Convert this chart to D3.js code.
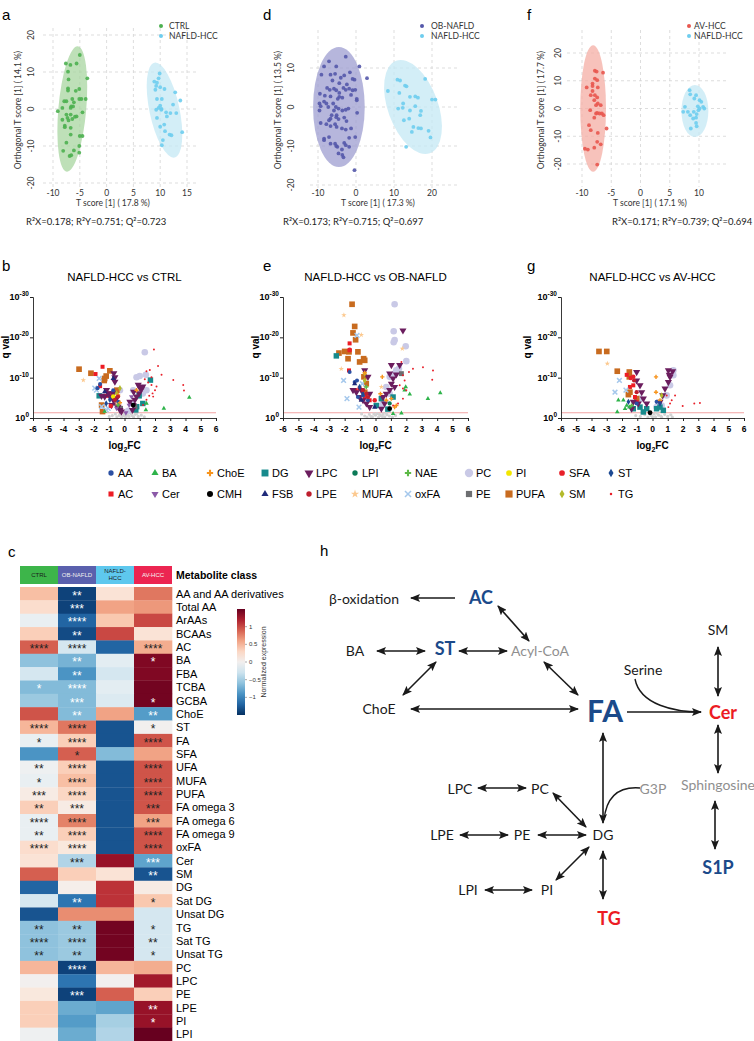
<!DOCTYPE html>
<html><head><meta charset="utf-8">
<script src="https://cdn.jsdelivr.net/npm/d3@7"></script>
<style>body{margin:0;background:#fff}svg{display:block}</style>
</head><body>
<svg id="c" width="754" height="1041"></svg>
<script>
// ---------------- DATA ----------------
// PCA (OPLS-DA) scores
const pcaA_ctrl = [[-5,14.6],[-3.6,8.3],[-5.6,12.3],[-6.75,11.9],[-7.6,12.3],[-7.2,10.1],[-5.1,5.4],[-5.75,4.9],[-4.7,2.7],[-5.1,2.7],[-7.1,8.0],[-7.2,5.6],[-7.2,5.0],[-6.4,2.7],[-6.6,0.7],[-6.7,0.3],[-6.1,1.8],[-6.25,0.7],[-8.25,0.3],[-7.5,2.1],[-7.9,2.1],[-9.1,-0.6],[-7.5,-1.5],[-7.3,-2.4],[-8.25,-2.9],[-6.7,-1.5],[-6.4,-2.7],[-5.6,-2.0],[-5.9,-2.1],[-7.8,-4.5],[-7.8,-4.9],[-7.1,-3.1],[-6.7,-5.1],[-4.5,-0.9],[-4.5,-7.3],[-5,-7.3],[-5.1,-10],[-5.1,-11.8],[-7.5,-9.1],[-8.1,-11.3],[-6.7,-6.9],[-6.6,-12.5],[-6.9,-12.7],[-6.1,-11.2],[-3.9,2.7]];
const pcaA_hcc = [[8.9,7.4],[9.25,6.25],[10,5.9],[10.8,5.4],[9.7,8.3],[9.9,9.6],[9.4,7.1],[9.1,5.2],[10.3,2.7],[9.4,2.7],[10,0.9],[9.7,0.3],[10.25,0],[9.25,-0.2],[11.1,-0.9],[11.9,-1.1],[12.4,1.2],[12.8,4.5],[13.75,2.3],[13,-1.1],[9.4,-2.4],[10,-4.8],[10.75,-4.2],[10.9,-6],[11.75,-6.9],[12.1,-7.1],[14.1,-6.25],[10.3,-9.8],[10.5,-8.4],[10.2,-0.2],[11.25,-2.0]];
const pcaD_ob = [[-7.1,11.7],[-2.7,12.9],[-5.2,10.4],[-8.4,10.4],[0.9,10.4],[-1.6,8.9],[-6.7,8.3],[-5.5,8.5],[-9.1,8.3],[-3.1,8.1],[-0.9,7.2],[-0.4,7.0],[-4.0,7.5],[-4.4,6.1],[-2.4,5.8],[2.9,7.4],[-6.2,6.8],[-7.6,4.9],[-9.5,3.4],[-8.2,2.9],[-6.9,4.4],[-5.8,4.7],[-5.2,4.3],[-4.4,3.6],[-3.3,4.9],[-2.7,4.4],[-1.8,4.7],[-1.3,3.1],[-0.9,4.3],[-0.2,4.4],[-6.7,2.7],[-4.4,2.6],[-4.8,2.1],[-3.6,2.4],[-8.4,1.4],[-9.6,0.9],[-9.3,0.2],[-7.8,0.9],[-7.3,0],[-6.0,0.9],[-5.3,0],[-4.6,-0.4],[-3.6,-0.9],[-2.7,-0.7],[-2.0,-0.4],[-5.8,-0.9],[-5.1,-2.1],[-5.2,-2.6],[-6.7,-3.0],[-6.4,-2.1],[-4.6,-3.1],[-3.1,-2.7],[-2.5,-3.6],[0.3,-1.5],[0.2,2.1],[0.2,1.7],[-9.6,-0.9],[-9.3,-4.1],[-7.8,-4.4],[-7.1,-3.4],[-5.5,-4.4],[-5.1,-5.1],[-3.7,-5.5],[-2.7,-5.8],[-6.7,-4.9],[-1.3,-5.5],[-1.8,-7.9],[-8.4,-8.1],[-7.1,-7.7],[-6.7,-9.4],[-5.5,-9.4],[-5.2,-10.0],[-4.9,-10.2],[-3.1,-9.2],[-2.7,-9.8],[-4.6,-11.9],[-3.6,-12.3],[-3.3,-12.9],[-3.7,-10.9],[-1.8,-10.2],[-0.4,-16.2],[-0.2,-7.7],[-8.4,-8.5]];
const pcaD_hcc = [[10.9,7.0],[11.6,6.8],[13.3,5.3],[12.9,5.5],[8.4,4.1],[11.4,3.6],[14.2,2.6],[15.6,2.7],[16.3,2.4],[18.2,7.2],[20.0,1.9],[20.9,1.9],[12.4,0.9],[12.3,-0.2],[11.1,-0.4],[14.2,-0.9],[15.6,0.2],[17.1,-1.0],[12.6,-3.4],[14.0,-3.0],[15.1,-5.1],[16.4,-5.4],[17.1,-5.5],[19.1,-6.1],[19.6,-7.8],[13.2,-10.2],[14.7,-6.4],[16.9,-2.1]];
const pcaF_av = [[-7.8,13.6],[-7.5,13.3],[-6.4,12.9],[-7.8,10.8],[-7.4,10.2],[-8.2,9.0],[-9.2,7.6],[-8.2,8.1],[-7.3,7.6],[-7.8,4.8],[-7.4,4.0],[-8.5,4.8],[-7.9,3.0],[-7.3,1.8],[-7.6,1.2],[-8.6,-0.6],[-6.8,1.2],[-6.6,-1.8],[-7.6,-1.8],[-7.9,-3.3],[-7.4,-1.6],[-8.8,-6.0],[-8.5,-7.8],[-5.8,-7.2],[-7.3,-8.8],[-7.4,-12.0],[-6.8,-12.9],[-7.9,-14.1],[-9.5,-14.5],[-9.0,-14.8],[-7.4,-20.2],[-7.0,-1.8],[-6.3,-2.4],[-8.2,6.3]];
const pcaF_hcc = [[8.4,6.6],[8.5,5.1],[9.5,4.8],[9.2,3.6],[10.4,2.4],[10.1,3.0],[10.7,0.6],[10.1,0],[9.8,0.8],[10.9,0],[9.9,-0.6],[9.1,-1.2],[8.5,-2.4],[9.6,-2.0],[8.1,-1.2],[7.3,-1.2],[9.5,-3.3],[9.5,-5.2],[8.6,-7.2],[9.6,-6.4],[9.0,-3.6],[7.6,0.6]];
// confidence ellipses: [cx, cy, rx, ry, tiltDeg]
const ellA = [[-6.4,0,2.6,17,5],[10.8,-0.3,2.8,13.1,-12]];
const ellD = [[-4.5,0,6.8,15.4,0],[15,0,6.6,12.6,-20]];
const ellF = [[-8.1,0,2.2,22.8,0],[9.3,-0.9,2.3,9.4,0]];
const statsA = "R²X=0.178; R²Y=0.751; Q²=0.723";
const statsD = "R²X=0.173; R²Y=0.715; Q²=0.697";
const statsF = "R²X=0.171; R²Y=0.739; Q²=0.694";

// Volcano data: [class, log2FC, -log10(q)]
const volcB = [
["NS",-0.8,0.6],["NS",-0.5,0.3],["NS",-0.3,0.9],["NS",-0.1,0.5],["NS",0.0,1.0],["NS",0.1,0.2],["NS",0.2,0.7],["NS",0.3,0.4],["NS",0.4,1.1],["NS",0.5,0.6],["NS",0.6,0.2],["NS",0.7,0.9],["NS",0.9,0.4],["NS",1.1,0.7],["NS",-0.6,1.0],["NS",-0.2,0.1],["NS",0.15,1.2],["NS",-0.35,0.6],["NS",0.8,1.1],["NS",1.3,0.3],["NS",-1.0,0.4],["NS",0.05,0.5],
["PC",1.33,16.3],["PC",0.79,10.1],["PC",1.0,10.4],["PC",1.4,10.7],["PC",0.57,6.9],["PC",1.2,6.1],["PC",0.46,3.6],["PC",1.44,6.9],["PC",0.24,1.8],["PC",-0.3,6.9],
["PUFA",-2.98,12.1],["PUFA",-2.2,11.1],["PUFA",-0.96,11.7],["PUFA",-1.2,10.4],["PUFA",-1.3,9.8],["PUFA",-1.33,9.3],["PUFA",-1.44,1.6],["PUFA",-0.5,6.9],["PUFA",-1.5,3.2],
["DG",-1.66,5.5],["DG",-0.48,3.6],["DG",0.8,2.8],["DG",1.2,3.6],["DG",1.7,9.4],["DG",0.74,2.0],["DG",0.96,5.5],
["PE",-0.26,2.4],["PE",0.68,2.8],
["AC",-1.44,12.7],["AC",-1.9,10.9],["AC",-1.6,7.9],["AC",-1.2,5.5],["AC",-0.63,5.0],["AC",-0.96,6.1],
["LPC",-0.7,11.1],["LPC",-0.63,10.1],["LPC",-0.63,9.0],["LPC",-1.18,6.9],["LPC",-1.07,6.1],["LPC",-0.96,5.3],["LPC",-0.74,4.5],["LPC",-0.57,3.6],["LPC",-0.42,2.8],["LPC",-0.85,3.2],["LPC",-0.3,2.0],["LPC",-0.2,1.6],["LPC",-0.52,4.9],["LPC",-1.3,5.3],["LPC",-0.74,6.1],["LPC",-1.5,5.5],["LPC",0.57,3.2],["LPC",0.68,4.5],["LPC",0.79,5.3],["LPC",0.96,6.1],["LPC",1.1,7.1],["LPC",1.2,7.8],["LPC",0.52,2.0],["LPC",0.6,6.5],["LPC",0.35,4.0],["LPC",0.9,8.2],["LPC",1.0,7.6],
["Cer",0.3,3.2],["Cer",0.46,5.3],["Cer",0.09,1.3],["Cer",-0.52,2.4],
["MUFA",-2.7,9.4],["MUFA",-0.5,3.6],
["oxFA",-1.66,9.8],["oxFA",-1.95,7.4],["oxFA",-1.5,2.8],["oxFA",-1.07,2.4],["oxFA",-1.84,6.9],["oxFA",-1.2,2.0],
["AA",-1.77,7.4],["AA",-1.6,8.4],["AA",-0.74,6.9],["AA",-0.4,4.0],
["FSB",-0.74,9.8],["FSB",-1.3,6.5],
["SM",-0.3,7.4],["SM",-0.52,6.1],
["ChoE",-0.42,5.7],["ChoE",-0.3,3.8],["ChoE",0.79,6.9],
["PI",-0.74,5.3],
["ST",-0.96,4.5],["ST",-1.2,3.6],
["LPE",-0.63,4.5],["LPE",-0.42,5.3],
["NAE",-0.42,3.2],
["SFA",-0.9,3.0],
["CMH",0.57,3.2],
["BA",-1.3,1.6],["BA",1.4,2.0],["BA",2.58,2.4],["BA",4.25,5.1],["BA",1.44,3.6],
["TG",1.93,17.0],["TG",2.2,12.9],["TG",2.43,10.7],["TG",1.66,11.9],["TG",1.44,11.6],["TG",1.77,10.1],["TG",3.2,9.4],["TG",3.85,8.2],["TG",3.9,6.8],["TG",1.77,8.2],["TG",2.0,6.9],["TG",1.84,6.1],["TG",1.44,4.5],["TG",1.62,5.5],["TG",1.22,3.2],["TG",1.88,5.3],["TG",2.1,7.8],["TG",1.55,8.8],["TG",1.33,9.6]
];
const volcE = [
["NS",-0.7,0.5],["NS",-0.4,0.9],["NS",-0.2,0.3],["NS",0.0,0.7],["NS",0.1,1.1],["NS",0.2,0.2],["NS",0.35,0.6],["NS",0.5,1.0],["NS",0.6,0.3],["NS",0.75,0.8],["NS",0.9,0.5],["NS",1.1,0.2],["NS",-0.55,0.2],["NS",-0.1,1.0],["NS",0.45,0.4],["NS",0.25,0.9],["NS",-0.3,0.4],["NS",1.3,0.6],["NS",0.7,1.2],["NS",-0.9,1.0],
["PC",1.24,28.2],["PC",1.18,21.5],["PC",1.24,19.3],["PC",1.18,18.8],["PC",1.96,17.8],["PC",2.0,14.1],["PC",1.35,11.8],["PC",1.24,11.0],["PC",0.92,10.2],["PC",0.7,7.7],["PC",0.92,6.0],["PC",0.49,4.0],["PC",0.38,3.1],["PC",1.52,12.2],
["PUFA",-1.52,28.2],["PUFA",-1.35,22.7],["PUFA",-1.46,21.1],["PUFA",-1.29,19.4],["PUFA",-2.0,16.5],["PUFA",-1.72,16.4],["PUFA",-2.37,16.1],["PUFA",-1.78,14.7],["PUFA",-0.77,14.7],["PUFA",-0.7,14.3],["PUFA",-0.75,10.2],["PUFA",-0.6,8.5],["PUFA",-1.14,16.4],["PUFA",-0.7,6.4],["PUFA",-1.03,13.9],
["DG",-2.54,15.4],["DG",0.38,4.8],["DG",1.14,5.2],["DG",0.05,3.1],["DG",0.8,2.2],
["PE",1.68,11.0],
["AC",-1.68,18.5],["AC",-1.68,16.8],["AC",-1.72,11.8],["AC",-1.29,6.9],["AC",-0.7,5.2],["AC",-0.38,4.4],["AC",-1.03,7.3],
["LPC",1.78,21.7],["LPC",1.03,13.1],["LPC",1.57,13.1],["LPC",1.35,10.8],["LPC",1.14,9.8],["LPC",1.03,8.5],["LPC",0.92,6.9],["LPC",0.7,6.0],["LPC",0.49,5.2],["LPC",0.59,3.6],["LPC",0.38,2.3],["LPC",-0.7,11.8],["LPC",-0.92,6.9],["LPC",-1.24,6.4],["LPC",-1.03,5.2],["LPC",-0.81,4.4],["LPC",-0.59,3.6],["LPC",-0.38,2.7],["LPC",-1.46,6.9],["LPC",-0.49,10.2],["LPC",-0.38,6.0],["LPC",1.24,7.7],["LPC",0.92,11.0],
["SFA",-1.68,16.9],["SFA",-0.05,4.4],
["MUFA",-2.05,25.5],["MUFA",-0.92,20.6],["MUFA",-2.22,12.2],["MUFA",1.74,17.2],["MUFA",0.38,7.7],
["oxFA",-1.2,20.5],["oxFA",-2.07,9.3],["oxFA",-1.85,4.8],["oxFA",-1.07,2.7],["oxFA",-0.85,8.5],
["AA",-1.68,11.4],["AA",-1.35,8.9],["AA",-1.2,9.3],["AA",-1.14,5.2],["AA",-0.81,5.6],["AA",-0.49,4.4],
["FSB",-1.35,8.5],["FSB",-0.92,4.4],["FSB",-0.05,2.7],
["ChoE",0.44,10.2],["ChoE",-0.7,11.2],["ChoE",0.32,6.0],["ChoE",0.7,4.4],["ChoE",1.35,3.1],["ChoE",1.24,2.7],["ChoE",1.03,4.8],
["SM",-0.7,11.0],["SM",-0.7,9.3],
["ST",-0.81,6.0],["ST",-1.03,7.7],
["LPE",-0.81,6.9],["LPE",-0.59,6.0],["LPE",-0.49,5.2],
["NAE",-0.6,7.7],
["LPI",0.92,3.6],
["CMH",0.92,2.3],
["BA",1.96,7.7],["BA",2.22,5.9],["BA",3.4,4.8],["BA",4.2,6.2],["BA",1.68,1.2],["BA",1.14,1.1],["BA",1.89,6.9],
["TG",1.68,13.9],["TG",2.43,12.2],["TG",3.08,12.6],["TG",3.73,11.8],["TG",3.68,9.5],["TG",2.17,11.4],["TG",1.78,10.6],["TG",1.89,9.3],["TG",1.78,7.3],["TG",1.57,8.1],["TG",2.0,6.9],["TG",1.78,4.8],["TG",1.46,3.6],["TG",1.14,3.1]
];
const volcG = [
["NS",-0.8,0.4],["NS",-0.5,0.8],["NS",-0.3,0.2],["NS",-0.1,0.6],["NS",0.1,1.0],["NS",0.2,0.3],["NS",0.4,0.7],["NS",0.6,0.2],["NS",0.8,0.9],["NS",1.0,0.4],["NS",1.3,0.2],["NS",-0.6,1.1],["NS",0.3,1.2],["NS",0.0,0.3],["NS",-1.1,0.6],["NS",1.2,0.8],["NS",0.55,0.5],
["PC",1.37,11.8],["PC",1.15,8.1],["PC",0.93,5.6],["PC",0.6,3.1],["PC",-0.82,4.8],["PC",0.27,2.7],["PC",1.37,10.6],
["PUFA",-3.51,16.5],["PUFA",-3.0,16.5],["PUFA",-2.31,11.6],["PUFA",-1.52,11.4],["PUFA",-1.52,10.2],["PUFA",-1.48,6.4],["PUFA",-1.58,5.8],["PUFA",-1.04,4.8],
["DG",-1.26,2.3],["DG",-0.82,2.7],["DG",-0.38,2.3],["DG",0.27,2.3],["DG",0.49,2.7],["DG",0.71,1.9],["DG",-0.6,1.5],
["AC",-1.69,10.7],["AC",-1.48,7.7],["AC",-1.26,8.1],["AC",-1.15,5.2],["AC",-1.04,4.0],
["SFA",-1.26,10.2],["SFA",-1.43,9.9],
["LPE",-1.21,9.3],["LPE",-1.04,6.4],
["LPC",1.04,11.8],["LPC",1.32,11.6],["LPC",1.15,10.2],["LPC",1.04,8.9],["LPC",0.82,7.3],["LPC",0.67,5.6],["LPC",0.49,4.0],["LPC",-1.04,9.3],["LPC",-0.82,8.1],["LPC",-0.71,6.4],["LPC",-0.6,4.8],["LPC",-0.38,3.6],["LPC",-1.26,4.0],["LPC",-1.37,2.3],["LPC",-0.93,3.6],["LPC",-1.04,11.4],["LPC",1.1,10.7],
["MUFA",-2.96,13.5],
["oxFA",-2.17,9.3],["oxFA",-2.46,6.4],["oxFA",-1.74,6.9],
["ChoE",0.23,10.2],["ChoE",0.23,6.4],["ChoE",0.49,4.4],
["ST",-1.58,4.0],["ST",0.49,3.6],
["AA",-1.04,3.6],["AA",0.27,4.0],
["SM",0.6,5.6],
["NAE",-1.37,3.1],
["CMH",-0.16,1.3],
["BA",-2.24,4.4],["BA",-1.91,4.4],["BA",-2.31,1.5],["BA",-1.8,2.3],["BA",-1.69,3.1],["BA",-1.52,2.7],
["TG",0.93,5.6],["TG",1.26,4.4],["TG",1.98,3.0],["TG",2.74,3.6],["TG",3.11,3.7],["TG",1.48,5.6],["TG",1.15,3.6],["TG",1.04,2.7]
];
const volcTitles = ["NAFLD-HCC vs CTRL","NAFLD-HCC vs OB-NAFLD","NAFLD-HCC vs AV-HCC"];
const qTicks = [0,10,20,30];
const fcTicks = [-6,-5,-4,-3,-2,-1,0,1,2,3,4,5,6];
const legendClasses = ["AA","AC","BA","Cer","ChoE","CMH","DG","FSB","LPC","LPE","LPI","MUFA","NAE","oxFA","PC","PE","PI","PUFA","SFA","SM","ST","TG"];

// Heatmap
const hmRows = ["AA and AA derivatives","Total AA","ArAAs","BCAAs","AC","BA","FBA","TCBA","GCBA","ChoE","ST","FA","SFA","UFA","MUFA","PUFA","FA omega 3","FA omega 6","FA omega 9","oxFA","Cer","SM","DG","Sat DG","Unsat DG","TG","Sat TG","Unsat TG","PC","LPC","PE","LPE","PI","LPI"];
const hmGroups = ["CTRL","OB-NAFLD","NAFLD-HCC","AV-HCC"];
const hmCTRL = [0.45,0.25,-0.1,0.35,0.9,-0.6,-0.25,-0.65,-0.55,0.95,0.5,-0.1,-0.9,-0.05,-0.1,0.1,0.35,-0.1,-0.1,0.25,0.2,0.9,-1.2,-0.25,-1.3,-0.6,-0.6,-0.6,0.5,0.0,0.15,0.35,0.35,-0.05];
const hmOB = [-1.4,-1.4,-1.2,-1.35,-0.25,-0.7,-0.9,-0.65,-0.65,-0.65,0.8,0.35,0.9,0.35,0.45,0.3,0.1,0.75,0.35,0.15,-0.45,0.35,0.05,-1.1,0.7,-0.55,-0.55,-0.55,-1.4,-1.1,-1.4,-0.75,-0.85,-0.75];
const hmNH = [0.2,0.6,0.4,1.0,-1.2,-0.15,-0.25,-0.15,-0.2,0.6,-1.3,-1.3,-0.65,-1.3,-1.3,-1.3,-1.3,-1.3,-1.3,-1.3,1.3,0.2,1.1,1.1,0.7,1.45,1.45,1.45,0.5,0.0,0.9,-0.8,-0.5,-0.45];
const hmAV = [0.8,0.65,1.0,0.2,0.55,1.4,1.4,1.45,1.45,-0.85,0.0,0.95,0.6,0.95,0.95,0.95,0.95,0.6,0.95,0.95,-0.8,-1.3,0.1,0.4,-0.25,-0.25,-0.25,-0.25,0.55,1.25,0.35,1.3,1.3,1.5];
const stCTRL = ["","","","","****","","","*","","","****","*","","**","*","***","**","****","**","****","","","","","","**","****","**","","","","","",""];
const stOB = ["**","***","****","**","****","**","**","****","***","**","****","****","*","****","****","****","***","****","****","****","***","","","**","","**","****","**","****","","***","","",""];
const stNH = hmRows.map(() => "");
const stAV = ["","","","","****","*","","","*","**","*","****","","****","****","****","***","***","****","****","***","**","","*","","*","**","*","","","","**","*",""];
const cbTicks = [1,0.5,0,-0.5,-1];

// Pathway nodes
const pathNodes = [
 ["β-oxidation","n"],["AC","b"],["BA","n"],["ST","b"],["Acyl-CoA","g"],["ChoE","n"],["FA","B"],["Serine","n"],["Cer","r"],["SM","n"],["Sphingosine","g"],["S1P","b"],["G3P","g"],["LPC","n"],["PC","n"],["LPE","n"],["PE","n"],["DG","n"],["LPI","n"],["PI","n"],["TG","r"]
];

// ---------------- LAYOUT / STYLE ----------------
const svg = d3.select("#c");
const ARIAL = "'Liberation Sans', Arial, sans-serif";
const MYR = "Lato, 'Open Sans', sans-serif";

function letter(t,x,y){ svg.append("text").attr("x",x).attr("y",y).attr("font-family",ARIAL).attr("font-size",15).text(t); }

// ---- PCA panels ----
function pca(o){
  const g = svg.append("g");
  const x = d3.scaleLinear().domain(o.xd).range(o.xr);
  const y = d3.scaleLinear().domain(o.yd).range(o.yr);
  o.xt.forEach(t=>g.append("line").attr("x1",x(t)).attr("x2",x(t)).attr("y1",o.gy[0]).attr("y2",o.gy[1]).attr("stroke","#d4d4d4").attr("stroke-dasharray","3,3").attr("stroke-width",0.8));
  o.yt.forEach(t=>g.append("line").attr("y1",y(t)).attr("y2",y(t)).attr("x1",o.gx[0]).attr("x2",o.gx[1]).attr("stroke","#d4d4d4").attr("stroke-dasharray","3,3").attr("stroke-width",0.8));
  o.ell.forEach((e,i)=>{
    g.append("ellipse").attr("cx",0).attr("cy",0).attr("rx",e[2]*Math.abs(x(1)-x(0))).attr("ry",e[3]*Math.abs(y(1)-y(0)))
     .attr("transform",`translate(${x(e[0])},${y(e[1])}) rotate(${e[4]})`).attr("fill",o.ecol[i]).attr("opacity",0.75);
  });
  o.pts.forEach((p,i)=>{
    g.selectAll(null).data(p).join("circle").attr("cx",d=>x(d[0])).attr("cy",d=>y(d[1])).attr("r",1.9).attr("fill",o.pcol[i]).attr("opacity",0.9);
  });
  o.xt.forEach(t=>g.append("text").attr("x",x(t)).attr("y",196).attr("text-anchor","middle").attr("font-family",MYR).attr("font-size",8.5).attr("fill","#333").text(t));
  o.yt.forEach(t=>g.append("text").attr("transform",`translate(${o.ytx},${y(t)}) rotate(-90)`).attr("text-anchor","middle").attr("font-family",MYR).attr("font-size",8.5).attr("fill","#333").text(t));
  g.append("text").attr("x",o.xlab[0]).attr("y",206).attr("text-anchor","middle").attr("font-family",MYR).attr("font-size",8.5).attr("fill","#333").text(o.xlab[1]);
  g.append("text").attr("transform",`translate(${o.ylab[0]},110) rotate(-90)`).attr("text-anchor","middle").attr("font-family",MYR).attr("font-size",8.5).attr("fill","#333").text(o.ylab[1]);
  g.append("text").attr("x",o.statx).attr("y",225).attr("font-family",MYR).attr("font-size",9.5).attr("fill","#222").text(o.stats);
  o.leg.forEach((l,i)=>{
    g.append("circle").attr("cx",o.legx[0]).attr("cy",26+i*10).attr("r",2).attr("fill",o.pcol[i]);
    g.append("text").attr("x",o.legx[1]).attr("y",29+i*10).attr("font-family",MYR).attr("font-size",8.5).attr("fill","#333").text(l);
  });
}
pca({xd:[-10,15],xr:[53,187],yd:[-20,20],yr:[183,35],gx:[43,198],gy:[28,190],xt:[-10,-5,0,5,10,15],yt:[-20,-10,0,10,20],ytx:34,
  ell:ellA,ecol:["#a8d5a0","#c4e8f4"],pts:[pcaA_ctrl,pcaA_hcc],pcol:["#4cb050","#6ecdee"],
  xlab:[113,"T score [1] ( 17.8 %)"],ylab:[21,"Orthogonal T score [1] ( 14.1 %)"],statx:26,stats:statsA,leg:["CTRL","NAFLD-HCC"],legx:[161,169]});
pca({xd:[-10,20],xr:[318,432],yd:[-20,10],yr:[185,68],gx:[310,457],gy:[30,188],xt:[-10,0,10,20],yt:[-20,-10,0,10],ytx:294,
  ell:ellD,ecol:["#9d9dd0","#c4e8f4"],pts:[pcaD_ob,pcaD_hcc],pcol:["#5458aa","#6ecdee"],
  xlab:[378,"T score [1] ( 17.3 %)"],ylab:[281,"Orthogonal T score [1] ( 13.5 %)"],statx:283,stats:statsD,leg:["OB-NAFLD","NAFLD-HCC"],legx:[422,431]});
pca({xd:[-10,10],xr:[582,699],yd:[-20,20],yr:[164,53],gx:[567,727],gy:[30,187],xt:[-10,-5,0,5,10],yt:[-20,-10,0,10,20],ytx:561,
  ell:ellF,ecol:["#f4aea4","#c4e8f4"],pts:[pcaF_av,pcaF_hcc],pcol:["#e8574f","#6ecdee"],
  xlab:[650,"T score [1] ( 17.1 %)"],ylab:[544,"Orthogonal T score [1] ( 17.7 %)"],statx:612,stats:statsF,leg:["AV-HCC","NAFLD-HCC"],legx:[689,694]});
letter("a",2,20); letter("d",263,20); letter("f",527,20);

// ---- Volcano ----
const classStyle = {
 NS:{s:"circle",c:"#d2d2d2",a:8},
 AA:{s:"circle",c:"#2b50a3",a:13},
 AC:{s:"square",c:"#ed1c24",a:16},
 BA:{s:"tri",c:"#2eb34a",a:9},
 Cer:{s:"tridown",c:"#8b5aa8",a:11},
 ChoE:{s:"cross",c:"#f7941d",a:10},
 CMH:{s:"circle",c:"#000",a:18},
 DG:{s:"square",c:"#178a8c",a:30},
 FSB:{s:"tri",c:"#1f2a7a",a:12},
 LPC:{s:"tridown",c:"#6b1d5e",a:22},
 LPE:{s:"circle",c:"#be1e2d",a:14},
 LPI:{s:"circle",c:"#0b7a57",a:14},
 MUFA:{s:"star",c:"#fcc98f",a:9},
 NAE:{s:"cross",c:"#5db947",a:10},
 oxFA:{s:"times",c:"#a5c8ec",a:16},
 PC:{s:"circle",c:"#c9c9e6",a:34},
 PE:{s:"square",c:"#6d6e71",a:24},
 PI:{s:"circle",c:"#f2e600",a:16},
 PUFA:{s:"square",c:"#c86b1f",a:32},
 SFA:{s:"circle",c:"#e8202a",a:16},
 SM:{s:"diamond",c:"#b3ba2a",a:12},
 ST:{s:"diamond",c:"#1d4a93",a:12},
 TG:{s:"circle",c:"#e8202a",a:3}
};
function sym(cls, a){
  const st = classStyle[cls];
  const t = {circle:d3.symbolCircle,square:d3.symbolSquare,tri:d3.symbolTriangle,tridown:d3.symbolTriangle,cross:d3.symbolCross,star:d3.symbolStar,diamond:d3.symbolDiamond,times:d3.symbolTimes}[st.s];
  return d3.symbol().type(t).size(a)();
}
function drawMark(g, cls, px, py, a){
  const st = classStyle[cls];
  const p = g.append("path").attr("d",sym(cls,a||st.a)).attr("transform",`translate(${px},${py})${st.s==="tridown"?" rotate(180)":""}`);
  if(st.s==="times") p.attr("fill","none").attr("stroke",st.c).attr("stroke-width",1.5);
  else p.attr("fill",st.c);
}
function volcano(data, x0, x1, title, qx){
  const g = svg.append("g");
  const x = d3.scaleLinear().domain([-6,6]).range([x0,x1]);
  const y = d3.scaleLinear().domain([0,30]).range([418,297]);
  g.append("text").attr("x",(x0+x1)/2).attr("y",281).attr("text-anchor","middle").attr("font-family",ARIAL).attr("font-size",11.5).text(title);
  g.append("line").attr("x1",x0).attr("x2",x1).attr("y1",y(1.3)).attr("y2",y(1.3)).attr("stroke","#f2a3a3").attr("stroke-width",1);
  const order = ["NS","PC","PUFA","DG","PE","AC","LPC","Cer","MUFA","oxFA","AA","FSB","SM","ChoE","PI","ST","LPE","NAE","SFA","LPI","CMH","BA","TG"];
  order.forEach(cls=>data.filter(d=>d[0]===cls).forEach(d=>drawMark(g,cls,x(d[1]),y(d[2]))));
  const ya = g.append("g").attr("transform",`translate(${x0},0)`).call(d3.axisLeft(y).tickValues(qTicks).tickSize(3).tickFormat(""));
  const xa = g.append("g").attr("transform",`translate(0,418)`).call(d3.axisBottom(x).tickValues(fcTicks).tickSize(3).tickFormat(""));
  [ya,xa].forEach(a=>{a.select(".domain").attr("stroke","#222").attr("stroke-width",0.9); a.selectAll(".tick line").attr("stroke","#222");});
  qTicks.forEach(t=>{
    const tx = g.append("text").attr("x",x0-4).attr("y",y(t)+3).attr("text-anchor","end").attr("font-family",ARIAL).attr("font-weight","bold").attr("font-size",9);
    tx.append("tspan").text("10");
    tx.append("tspan").attr("dy",-4).attr("font-size",6.5).text(t===0?"0":"-"+t);
  });
  fcTicks.forEach(t=>g.append("text").attr("x",x(t)).attr("y",432).attr("text-anchor","middle").attr("font-family",ARIAL).attr("font-weight","bold").attr("font-size",8.5).text(t));
  g.append("text").attr("transform",`translate(${qx},347) rotate(-90)`).attr("text-anchor","middle").attr("font-family",ARIAL).attr("font-weight","bold").attr("font-size",10).text("q val");
  const lt = g.append("text").attr("x",(x0+x1)/2).attr("y",449).attr("text-anchor","middle").attr("font-family",ARIAL).attr("font-weight","bold").attr("font-size",10);
  lt.append("tspan").text("log");
  lt.append("tspan").attr("dy",3).attr("font-size",7).text("2");
  lt.append("tspan").attr("dy",-3).text("FC");
}
volcano(volcB,33,216,volcTitles[0],9);
volcano(volcE,283,468,volcTitles[1],259);
volcano(volcG,561,744,volcTitles[2],531);
letter("b",2,271); letter("e",263,271); letter("g",527,271);

// Legend
const legCols = [111,155,210,265,309,355,408,469,509,562,611];
legendClasses.forEach((cls,i)=>{
  const col = Math.floor(i/2), row = i%2;
  const lx = legCols[col], ly = row===0?473:494;
  const g = svg.append("g");
  const a = classStyle[cls].a;
  drawMark(g,cls,lx,ly, cls==="TG"?5:Math.max(22, a*1.6));
  g.append("text").attr("x",lx+7).attr("y",ly+4).attr("font-family",ARIAL).attr("font-size",11).text(cls);
});

// ---- Heatmap ----
letter("c",8,557); letter("h",320,556);
const color = d3.scaleSequential(d3.interpolateRdBu).domain([1.5,-1.5]);
const hx = d3.scaleBand().domain(hmGroups).range([20,172]);
const hy = d3.scaleBand().domain(hmRows).range([587,1041]);
const hdrCol = ["#3db54a","#5a60ad","#5ec8ee","#ec2551"];
const hdrTxt = ["#1a1a1a","#f0f0f0","#1a1a1a","#f5f5f5"];
hmGroups.forEach((gname,i)=>{
  svg.append("rect").attr("x",hx(gname)).attr("y",566).attr("width",hx.bandwidth()).attr("height",18).attr("fill",hdrCol[i]);
  const lines = gname==="NAFLD-HCC"?["NAFLD-","HCC"]:[gname];
  lines.forEach((l,j)=>svg.append("text").attr("x",hx(gname)+hx.bandwidth()/2).attr("y",lines.length===1?577:573+j*7).attr("text-anchor","middle").attr("font-family",ARIAL).attr("font-size",6).attr("fill",hdrTxt[i]).text(l));
});
svg.append("text").attr("x",176).attr("y",579).attr("font-family",ARIAL).attr("font-weight","bold").attr("font-size",10.5).text("Metabolite class");
const cols = [[hmCTRL,stCTRL],[hmOB,stOB],[hmNH,stNH],[hmAV,stAV]];
hmRows.forEach((r,ri)=>{
  cols.forEach((c,ci)=>{
    const v = c[0][ri];
    svg.append("rect").attr("x",hx(hmGroups[ci])).attr("y",hy(r)).attr("width",hx.bandwidth()+0.3).attr("height",hy.bandwidth()+0.3).attr("fill",color(v));
    if(c[1][ri]) svg.append("text").attr("x",hx(hmGroups[ci])+hx.bandwidth()/2).attr("y",hy(r)+hy.bandwidth()/2+6).attr("text-anchor","middle")
      .attr("font-family",ARIAL).attr("font-size",12).attr("fill",(v<-0.62||v>1.1)?"#fff":"#222").text(c[1][ri]);
  });
  svg.append("text").attr("x",176).attr("y",hy(r)+hy.bandwidth()/2+4).attr("font-family",ARIAL).attr("font-size",11).text(r);
});
// colorbar
const cby = d3.scaleLinear().domain([1.5,-1.5]).range([609,715]);
const defs = svg.append("defs");
const lg = defs.append("linearGradient").attr("id","cbg").attr("x1",0).attr("x2",0).attr("y1",0).attr("y2",1);
d3.range(0,1.001,0.1).forEach(t=>lg.append("stop").attr("offset",t).attr("stop-color",color(1.5-3*t)));
svg.append("rect").attr("x",237).attr("y",609).attr("width",8).attr("height",106).attr("fill","url(#cbg)");
cbTicks.forEach(t=>{
  svg.append("line").attr("x1",245).attr("x2",247).attr("y1",cby(t)).attr("y2",cby(t)).attr("stroke","#555").attr("stroke-width",0.5);
  svg.append("text").attr("x",249).attr("y",cby(t)+2).attr("font-family",ARIAL).attr("font-size",6).attr("fill","#333").text(t<0?"−"+Math.abs(t):t);
});
svg.append("text").attr("transform","translate(266,662) rotate(-90)").attr("text-anchor","middle").attr("font-family",ARIAL).attr("font-size",7).attr("fill","#333").text("Normalized expression");

// ---- Pathway ----
const nodePos = {"β-oxidation":[364,598],"AC":[481,597],"BA":[355,650],"ST":[445,648],"Acyl-CoA":[540,650],"ChoE":[379,708],"FA":[605,710],"Serine":[643,669],"Cer":[723,712],"SM":[718,629],"Sphingosine":[718,784],"S1P":[718,867],"G3P":[653,788],"LPC":[460,788],"PC":[540,788],"LPE":[442,834],"PE":[522,834],"DG":[603,834],"LPI":[468,889],"PI":[547,889],"TG":[609,918]};
const nodeStyle = {n:{c:"#1a1a1a",w:"normal",s:14},g:{c:"#8f8f8f",w:"normal",s:14},b:{c:"#1b4a8a",w:"bold",s:18},B:{c:"#1b4a8a",w:"bold",s:30},r:{c:"#ec1c24",w:"bold",s:18}};
const mk = defs.append("marker").attr("id","ah").attr("viewBox","0 0 10 8").attr("refX",9).attr("refY",4).attr("markerWidth",10).attr("markerHeight",8)
  .attr("markerUnits","userSpaceOnUse").attr("orient","auto-start-reverse");
mk.append("path").attr("d","M0,0 L10,4 L0,8 L2,4 Z").attr("fill","#1a1a1a");
const arrows = [
 [455,598,411,598,1],[498,606,529,641,2],[377,651,425,651,2],[459,651,507,651,2],[436,662,403,695,2],[544,662,578,695,2],
 [411,709,578,709,2],[627,712,701,712,1],[718,647,718,696,2],[718,725,718,773,2],[715,801,715,849,2],[603,733,603,823,2],
 [478,788,526,788,2],[553,793,586,827,2],[460,835,508,835,2],[538,835,586,835,2],[556,880,589,847,2],[485,890,532,890,2],[603,851,603,899,2]
];
arrows.forEach(a=>{
  const l = svg.append("line").attr("x1",a[0]).attr("y1",a[1]).attr("x2",a[2]).attr("y2",a[3]).attr("stroke","#1a1a1a").attr("stroke-width",1.6).attr("marker-end","url(#ah)");
  if(a[4]===2) l.attr("marker-start","url(#ah)");
});
svg.append("path").attr("d","M635,679 C640,705 675,712 701,712").attr("fill","none").attr("stroke","#1a1a1a").attr("stroke-width",1.4);
svg.append("path").attr("d","M640,788 C615,786 606,800 604,820").attr("fill","none").attr("stroke","#1a1a1a").attr("stroke-width",1.4);
pathNodes.forEach(n=>{
  const st = nodeStyle[n[1]], p = nodePos[n[0]];
  svg.append("text").attr("x",p[0]).attr("y",p[1]).attr("text-anchor","middle").attr("dominant-baseline","central")
    .attr("font-family",MYR).attr("font-weight",st.w).attr("font-size",st.s).attr("fill",st.c).text(n[0]);
});
</script>
</body></html>
